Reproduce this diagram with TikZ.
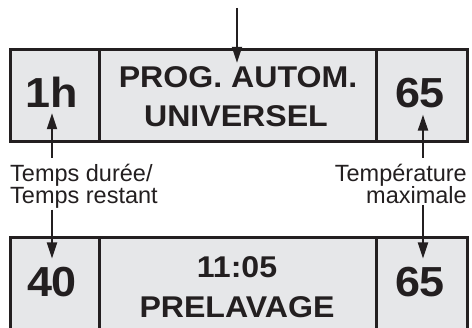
\documentclass[tikz,border=0pt]{standalone}
\usepackage{fontspec}
\setmainfont{Liberation Sans}
\newfontfamily\lcdfont{Liberation Sans}[FakeStretch=1.07]
\usetikzlibrary{arrows.meta,positioning}
\definecolor{lcdgray}{HTML}{E6E7E9}
\definecolor{ink}{HTML}{231F20}

\begin{document}
\begin{tikzpicture}[
  x=1pt, y=-1pt,
  cellbox/.style={draw=ink, line width=3pt, fill=lcdgray, minimum height=92pt, inner sep=0pt, outer sep=0pt},
  bignum/.style={font=\lcdfont\fontsize{42}{42}\selectfont\bfseries, text=ink, anchor=base, inner sep=0pt},
  lcdtxt/.style={font=\lcdfont\fontsize{30}{30}\selectfont\bfseries, text=ink, anchor=base, inner sep=0pt},
  lbl/.style={font=\fontsize{23.5}{22}\selectfont, text=ink, inner sep=0pt},
  arr/.style={-{Triangle[length=16pt,width=10pt]}, line width=2pt, draw=ink}
]
\useasboundingbox (0,0) rectangle (472,328);
% upper display
\node[cellbox, minimum width=89.5pt] (c11) at (54.75,96) {};
\node[cellbox, minimum width=276.5pt, right=0pt of c11] (c12) {};
\node[cellbox, minimum width=91pt, right=0pt of c12] (c13) {};
% lower display
\node[cellbox, minimum width=89.5pt, below=96pt of c11] (c21) {};
\node[cellbox, minimum width=276.5pt, right=0pt of c21] (c22) {};
\node[cellbox, minimum width=91pt, right=0pt of c22] (c23) {};
% texts
\node[bignum] (dur1) at (52,108) {1h};
\node[lcdtxt] (prog1) at (238,88) {PROG. AUTOM.};
\node[lcdtxt] (prog2) at (236,127) {UNIVERSEL};
\node[bignum] (temp1) at (420,108) {65};
\node[bignum] (dur2) at (52,297) {40};
\node[lcdtxt] (time2) at (237,278) {11:05};
\node[lcdtxt] (phase2) at (237,318) {PRELAVAGE};
\node[bignum] (temp2) at (420,297) {65};
% labels
\node[lbl, align=left, anchor=north west] (tdur) at (10,164) {Temps durée/\\Temps restant};
\node[lbl, align=right, anchor=north east] (tmax) at (467,164) {Température\\maximale};
\coordinate (progin) at (237,8);
% arrows
\draw[arr] (progin) -- ([yshift=4pt]prog1.north -| progin);
\draw[arr] ([yshift=6pt]tdur.north -| dur1) -- ([yshift=-5pt]dur1.south);
\draw[arr] ([yshift=6pt]tmax.north -| 423,0) -- ([yshift=-6pt]temp1.south -| 423,0);
\draw[arr] ([yshift=-1pt]tdur.south -| dur2) -- ([yshift=9pt]dur2.north);
\draw[arr] ([yshift=-1pt]tmax.south -| 423,0) -- ([yshift=9pt]temp2.north -| 423,0);
\end{tikzpicture}
\end{document}
